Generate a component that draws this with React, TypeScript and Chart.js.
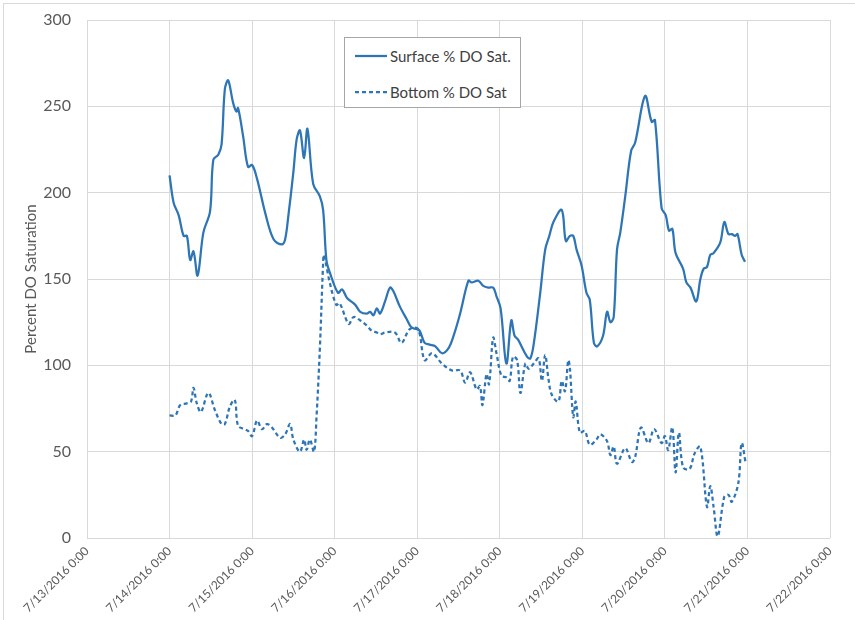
import React, { useEffect, useRef } from "react";
import { Chart, registerables } from "chart.js";
Chart.register(...registerables);

const xTickLabels = [
  "7/13/2016 0:00", "7/14/2016 0:00", "7/15/2016 0:00", "7/16/2016 0:00", "7/17/2016 0:00",
  "7/18/2016 0:00", "7/19/2016 0:00", "7/20/2016 0:00", "7/21/2016 0:00", "7/22/2016 0:00",
];

// days since 7/13/2016 0:00
const surfaceDays = [
  1.00, 1.05, 1.11, 1.17, 1.21, 1.25, 1.29, 1.34, 1.41, 1.49, 1.53, 1.59, 1.63, 1.67,
  1.71, 1.77, 1.81, 1.83, 1.89, 1.95, 2.00, 2.06, 2.16, 2.26, 2.36, 2.40, 2.44, 2.50, 2.54,
  2.58, 2.63, 2.67, 2.74, 2.82, 2.86, 2.90, 2.94, 3.04, 3.09, 3.15, 3.25, 3.31, 3.39, 3.43,
  3.47, 3.51, 3.55, 3.61, 3.67, 3.71, 3.79, 3.87, 3.93, 3.99, 4.03, 4.09, 4.15, 4.22, 4.30,
  4.38, 4.44, 4.52, 4.62, 4.66, 4.74, 4.80, 4.86, 4.92, 4.96, 5.01, 5.08, 5.14, 5.18, 5.22,
  5.33, 5.37, 5.41, 5.49, 5.55, 5.60, 5.65, 5.75, 5.80, 5.85, 5.89, 5.93, 5.99, 6.05, 6.09,
  6.14, 6.18, 6.25, 6.30, 6.34, 6.38, 6.42, 6.46, 6.52, 6.59, 6.64, 6.76, 6.84, 6.88, 6.96,
  7.01, 7.05, 7.09, 7.13, 7.22, 7.26, 7.31, 7.38, 7.43, 7.47, 7.51, 7.55, 7.59, 7.67, 7.72,
  7.77, 7.81, 7.85, 7.88, 7.93, 7.97,
];
const surfaceValues = [
  210, 194, 187, 175, 175, 161, 166, 152, 177, 189, 219, 222, 228, 260,
  265, 252, 247, 249, 233, 215, 216, 208, 188, 173, 170, 173, 187, 212, 231,
  236, 220, 237, 205, 198, 190, 161, 154, 142, 144, 139, 135, 131, 130, 131,
  129, 133, 130, 137, 145, 143, 134, 127, 122, 121, 120, 113, 112, 111, 107,
  110, 117, 130, 149, 148, 149, 146, 145, 145, 140, 133, 101, 126, 117, 115,
  105, 104, 112, 142, 167, 175, 183, 190, 172, 175, 175, 167, 158, 142, 138,
  113, 111, 117, 131, 125, 128, 167, 177, 198, 224, 229, 256, 241, 242, 191,
  187, 178, 179, 165, 156, 148, 145, 137, 150, 156, 157, 164, 165, 171, 183,
  176, 176, 175, 176, 164, 160,
];

const bottomDays = [
  1.00, 1.07, 1.13, 1.21, 1.26, 1.29, 1.33, 1.38, 1.47, 1.55, 1.63, 1.67, 1.73, 1.79, 1.83,
  1.91, 1.95, 2.00, 2.06, 2.12, 2.18, 2.24, 2.34, 2.40, 2.46, 2.50, 2.58, 2.63, 2.66, 2.70,
  2.75, 2.78, 2.82, 2.86, 2.87, 2.94, 3.02, 3.06, 3.17, 3.23, 3.31, 3.39, 3.45, 3.51, 3.55,
  3.61, 3.73, 3.81, 3.91, 4.01, 4.09, 4.18, 4.30, 4.42, 4.52, 4.58, 4.64, 4.72, 4.76, 4.79,
  4.84, 4.87, 4.92, 4.96, 5.02, 5.08, 5.12, 5.16, 5.21, 5.25, 5.31, 5.35, 5.41, 5.47, 5.51,
  5.55, 5.59, 5.63, 5.71, 5.75, 5.79, 5.83, 5.85, 5.89, 5.92, 5.97, 6.03, 6.09, 6.17, 6.22,
  6.30, 6.34, 6.38, 6.42, 6.52, 6.60, 6.64, 6.71, 6.80, 6.87, 6.96, 7.00, 7.04, 7.09, 7.13,
  7.17, 7.22, 7.30, 7.36, 7.43, 7.51, 7.55, 7.59, 7.64, 7.72, 7.77, 7.81, 7.89, 7.93, 7.98,
];
const bottomValues = [
  71, 71, 77, 78, 79, 87, 78, 73, 84, 74, 66, 66, 76, 80, 65,
  63, 62, 59, 68, 63, 66, 64, 58, 60, 66, 57, 50, 57, 51, 57,
  50, 70, 109, 159, 164, 148, 135, 136, 124, 128, 126, 123, 120, 119, 118,
  119, 119, 113, 121, 121, 103, 107, 101, 97, 97, 90, 96, 86, 88, 77,
  95, 89, 116, 107, 94, 93, 91, 105, 103, 84, 101, 98, 101, 104, 91,
  106, 92, 83, 79, 91, 85, 103, 98, 70, 79, 61, 62, 54, 57, 60,
  56, 48, 53, 43, 52, 44, 47, 64, 55, 63, 55, 59, 51, 64, 38,
  61, 41, 40, 49, 53, 18, 30, 18, 1, 24, 25, 21, 32, 55, 43,
];

const yTicks = [0, 50, 100, 150, 200, 250, 300];

const FONT = "Lato, 'Open Sans', sans-serif";
const LINE = "#2E75B6";
const TEXT = "#595959";
const GRID = "#d9d9d9";

export default function App() {
  const ref = useRef<HTMLCanvasElement | null>(null);
  useEffect(() => {
    if (!ref.current) return;
    const chart = new Chart(ref.current, {
      type: "line",
      data: {
        datasets: [
          {
            label: "Surface % DO Sat.",
            data: surfaceDays.map((d, i) => ({ x: d, y: surfaceValues[i] })),
            borderColor: LINE,
            backgroundColor: LINE,
            borderWidth: 2.25,
            pointRadius: 0,
            tension: 0.35,
          },
          {
            label: "Bottom % DO Sat",
            data: bottomDays.map((d, i) => ({ x: d, y: bottomValues[i] })),
            borderColor: LINE,
            backgroundColor: LINE,
            borderWidth: 2.25,
            borderDash: [4, 3],
            pointRadius: 0,
            tension: 0.35,
          },
        ],
      },
      options: {
        animation: false,
        responsive: false,
        devicePixelRatio: 1,
        layout: { padding: { top: 20, right: 25, left: 0, bottom: 0 } },
        plugins: { legend: { display: false }, tooltip: { enabled: false } },
        scales: {
          x: {
            type: "linear",
            min: 0,
            max: 9,
            afterFit: (s: any) => {
              s.height = 82;
              s.paddingLeft = 0;
              s.paddingRight = 0;
            },
            afterBuildTicks: (s: any) => {
              s.ticks = xTickLabels.map((_, i) => ({ value: i }));
            },
            ticks: {
              stepSize: 1,
              minRotation: 45,
              maxRotation: 45,
              color: TEXT,
              font: { family: FONT, size: 12 },
              padding: 6,
              callback: (v: any) => xTickLabels[Math.round(Number(v))],
            },
            grid: { color: GRID, drawTicks: false, lineWidth: 1 },
            border: { display: false },
          },
          y: {
            min: 0,
            max: 300,
            afterFit: (s: any) => {
              s.width = 87;
              s.paddingTop = 0;
              s.paddingBottom = 0;
            },
            afterBuildTicks: (s: any) => {
              s.ticks = yTicks.map((v) => ({ value: v }));
            },
            ticks: {
              stepSize: 50,
              color: TEXT,
              font: { family: FONT, size: 16 },
              padding: 16,
            },
            grid: { color: GRID, drawTicks: false, lineWidth: 1 },
            border: { display: false },
            title: {
              display: true,
              text: "Percent DO Saturation",
              color: TEXT,
              font: { family: FONT, size: 15 },
              padding: { top: 22, bottom: 0 },
            },
          },
        },
      },
    });
    return () => chart.destroy();
  }, []);

  return (
    <div style={{ position: "fixed", left: 0, top: 0, width: 855, height: 620, background: "#fff", overflow: "hidden" }}>
      <div style={{ position: "absolute", left: 3, top: 3, width: 860, height: 630, border: "1px solid #d9d9d9", boxSizing: "border-box" }} />
      <canvas ref={ref} width={855} height={620} style={{ position: "absolute", left: 0, top: 0, width: 855, height: 620 }} />
      <div
        style={{
          position: "absolute",
          left: 344,
          top: 37,
          width: 177,
          height: 71,
          border: "1px solid #a6a6a6",
          boxSizing: "border-box",
          background: "#fff",
          fontFamily: FONT,
          fontSize: 15,
          color: "#404040",
        }}
      >
        {[
          { label: "Surface % DO Sat.", dash: undefined as string | undefined, top: 8 },
          { label: "Bottom % DO Sat", dash: "4 3", top: 44 },
        ].map((it) => (
          <div key={it.label} style={{ position: "absolute", left: 9, top: it.top, display: "flex", alignItems: "center", whiteSpace: "nowrap", height: 20 }}>
            <svg width={34} height={6} style={{ marginRight: 2 }}>
              <line x1={1} y1={3} x2={33} y2={3} stroke={LINE} strokeWidth={2.25} strokeDasharray={it.dash} />
            </svg>
            <span>{it.label}</span>
          </div>
        ))}
      </div>
    </div>
  );
}
